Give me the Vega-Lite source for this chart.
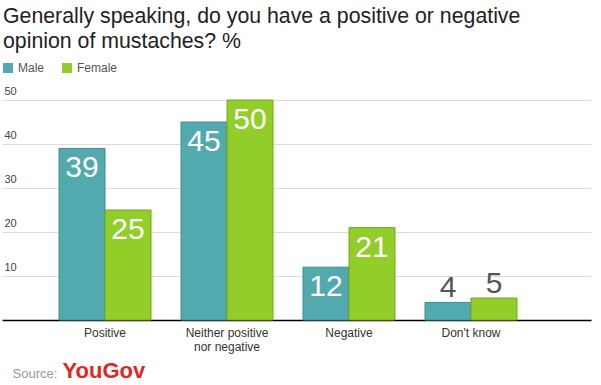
{
  "$schema": "https://vega.github.io/schema/vega-lite/v6.json",
  "width": 589,
  "height": 220,
  "autosize": {"type": "none"},
  "padding": {"left": 2, "top": 100, "right": 10, "bottom": 65},
  "background": "#ffffff",
  "title": {
    "text": ["Generally speaking, do you have a positive or negative", "opinion of mustaches? %"],
    "anchor": "start",
    "frame": "group",
    "fontSize": 21.3,
    "fontWeight": "normal",
    "color": "#222222",
    "lineHeight": 25,
    "baseline": "top",
    "offset": 10,
    "dx": 1
  },
  "data": {
    "values": [
      {"answer": "Positive", "gender": "Male", "value": 39},
      {"answer": "Positive", "gender": "Female", "value": 25},
      {"answer": "Neither positive nor negative", "gender": "Male", "value": 45},
      {"answer": "Neither positive nor negative", "gender": "Female", "value": 50},
      {"answer": "Negative", "gender": "Male", "value": 12},
      {"answer": "Negative", "gender": "Female", "value": 21},
      {"answer": "Don't know", "gender": "Male", "value": 4},
      {"answer": "Don't know", "gender": "Female", "value": 5}
    ]
  },
  "encoding": {
    "x": {
      "field": "answer",
      "type": "nominal",
      "sort": ["Positive", "Neither positive nor negative", "Negative", "Don't know"],
      "scale": {"paddingInner": 0, "paddingOuter": 0.414, "align": 0.416},
      "axis": {
        "title": "Source:",
        "titleX": 10,
        "titleY": 57,
        "titleAlign": "left",
        "titleBaseline": "alphabetic",
        "titleFontSize": 13,
        "titleFontWeight": "normal",
        "titleColor": "#999999",
        "labelAngle": 0,
        "labelFontSize": 12,
        "labelColor": "#333333",
        "labelPadding": 7,
        "labelLineHeight": 14,
        "labelBaseline": "top",
        "labelExpr": "datum.label == 'Neither positive nor negative' ? ['Neither positive', 'nor negative'] : datum.label",
        "ticks": false,
        "domainColor": "#000000",
        "domainWidth": 1.5,
        "grid": false
      }
    },
    "xOffset": {
      "field": "gender",
      "type": "nominal",
      "sort": ["Male", "Female"],
      "scale": {"paddingInner": 0, "paddingOuter": 0.326}
    },
    "y": {
      "field": "value",
      "type": "quantitative",
      "scale": {"domain": [0, 50], "nice": false},
      "axis": {
        "values": [10, 20, 30, 40, 50],
        "title": "YouGov",
        "titleAngle": 0,
        "titleX": 60,
        "titleY": 277,
        "titleAlign": "left",
        "titleBaseline": "alphabetic",
        "titleFontSize": 22,
        "titleFontWeight": "bold",
        "titleColor": "#e0261f",
        "domain": false,
        "ticks": false,
        "tickSize": 0,
        "labelAlign": "left",
        "labelPadding": -2,
        "labelBaseline": "alphabetic",
        "labelOffset": -6,
        "labelFontSize": 11,
        "labelColor": "#444444",
        "gridColor": "#dddddd",
        "gridWidth": 1
      }
    }
  },
  "layer": [
    {
      "mark": {"type": "bar", "strokeWidth": 1},
      "encoding": {
        "color": {
          "field": "gender",
          "type": "nominal",
          "sort": ["Male", "Female"],
          "scale": {"domain": ["Male", "Female"], "range": ["#52a9ae", "#92cd2a"]},
          "legend": {
            "title": null,
            "orient": "none",
            "legendX": 0,
            "legendY": -38,
            "direction": "horizontal",
            "symbolType": "square",
            "symbolSize": 100,
            "symbolStrokeWidth": 0,
            "labelFontSize": 12,
            "labelColor": "#555555",
            "labelOffset": 4,
            "columnPadding": 16,
            "padding": 0
          }
        },
        "stroke": {
          "field": "gender",
          "type": "nominal",
          "scale": {"domain": ["Male", "Female"], "range": ["#3d8f93", "#74a81f"]},
          "legend": null
        }
      }
    },
    {
      "transform": [{"filter": "datum.value >= 10"}],
      "mark": {"type": "text", "baseline": "alphabetic", "dy": 29, "fontSize": 30, "color": "#ffffff"},
      "encoding": {"text": {"field": "value", "type": "quantitative"}}
    },
    {
      "transform": [{"filter": "datum.value < 10"}],
      "mark": {"type": "text", "baseline": "alphabetic", "dy": -5, "fontSize": 30, "color": "#555555"},
      "encoding": {"text": {"field": "value", "type": "quantitative"}}
    }
  ],
  "config": {
    "font": "Liberation Sans",
    "view": {"stroke": null}
  }
}
